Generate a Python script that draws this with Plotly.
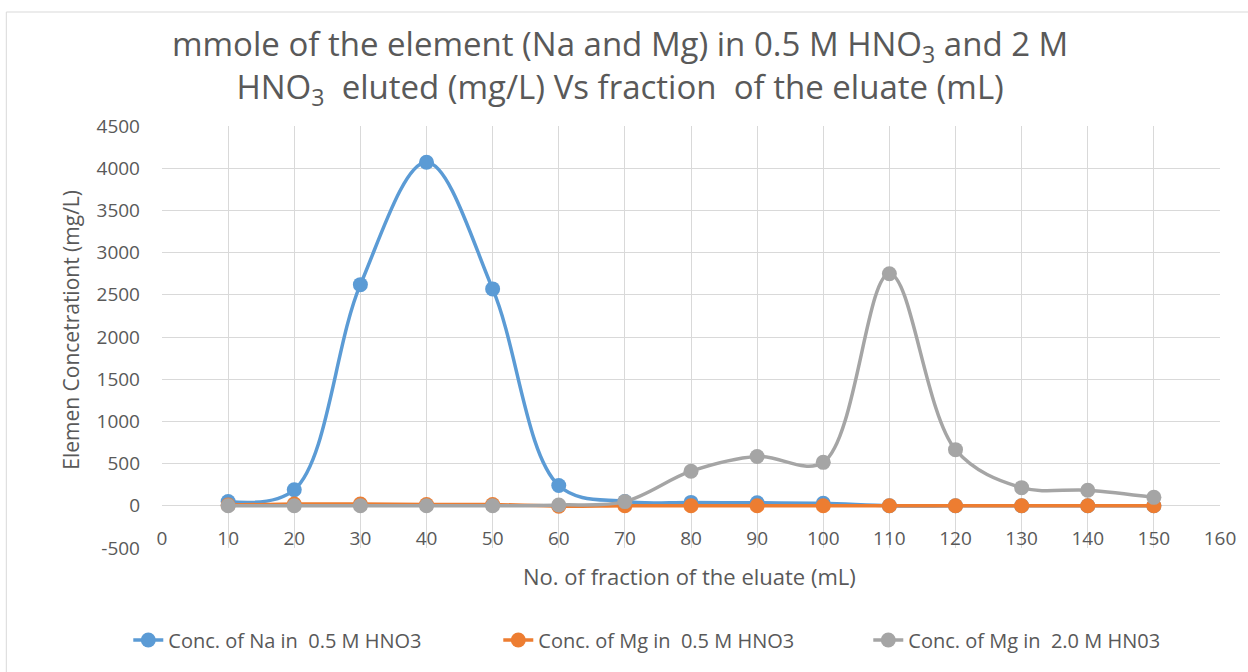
import plotly.graph_objects as go

fractions = [10, 20, 30, 40, 50, 60, 70, 80, 90, 100, 110, 120, 130, 140, 150]
na_05 = [50, 190, 2620, 4070, 2570, 240, 50, 40, 35, 30, 0, 0, 0, 0, 0]
mg_05 = [10, 20, 20, 15, 15, -5, 0, 0, 0, 0, 0, 0, 0, 0, 0]
mg_20 = [0, 0, 0, 0, 0, 10, 50, 410, 585, 515, 2750, 665, 215, 185, 100]

y_ticks = [-500, 0, 500, 1000, 1500, 2000, 2500, 3000, 3500, 4000, 4500]
y_ticktext = ["-500", "0", "500", "1000", "1500", "2000", "2500", "3000", "3500", "4000", "4500"]

names = ["Conc. of Na in\u00a0 0.5 M HNO3", "Conc. of Mg in\u00a0 0.5 M HNO3", "Conc. of Mg in\u00a0 2.0 M HN03"]
colors = ["#5B9BD5", "#ED7D31", "#A5A5A5"]
series = [na_05, mg_05, mg_20]

title_text = ("mmole of the element (Na and Mg) in 0.5 M HNO<sub>3</sub> and 2 M<br>"
              "HNO<sub>3</sub>\u00a0 eluted (mg/L) Vs fraction\u00a0 of the eluate (mL)")
x_title = "No. of fraction of the eluate (mL)"
y_title = "Elemen Concetrationt (mg/L)"

FONT = "Open Sans"
TXT = "#595959"
GRID = "#D9D9D9"

fig = go.Figure()
for name, col, ys in zip(names, colors, series):
    fig.add_trace(go.Scatter(
        x=fractions, y=ys, name=name, mode="lines+markers",
        line=dict(color=col, width=3.5, shape="spline", smoothing=1.0),
        marker=dict(color=col, size=15),
    ))

L, R, T, B = 162, 19, 126, 124
W, H = 1248, 672
pw, ph = W - L - R, H - T - B

def px(x):
    return (x - L) / pw

def py(y):
    return (H - B - y) / ph

fig.update_layout(
    width=W, height=H,
    margin=dict(l=L, r=R, t=T, b=B),
    paper_bgcolor="white", plot_bgcolor="white",
    font=dict(family=FONT, color=TXT, size=19),
    xaxis=dict(
        range=[0, 160], dtick=10, tick0=0,
        showgrid=True, gridcolor=GRID, gridwidth=1,
        zeroline=False, showline=False,
        anchor="free", position=0.1,
        ticks="", ticklabelstandoff=19,
        tickfont=dict(size=19, color=TXT),
    ),
    yaxis=dict(
        range=[-500, 4500], tickmode="array", tickvals=y_ticks, ticktext=y_ticktext,
        showgrid=True, gridcolor=GRID, gridwidth=1,
        zeroline=True, zerolinecolor=GRID, zerolinewidth=1,
        ticks="", ticklabelstandoff=21,
        tickfont=dict(size=19, color=TXT),
    ),
    legend=dict(
        orientation="h", x=px(128), xanchor="left", y=py(640), yanchor="middle",
        font=dict(size=20, color=TXT), entrywidth=325, entrywidthmode="pixels",
        bgcolor="rgba(0,0,0,0)",
    ),
    showlegend=True,
)

fig.add_annotation(
    text=title_text, xref="paper", yref="paper", x=px(624), y=py(67),
    showarrow=False, xanchor="center", yanchor="middle", align="center",
    font=dict(size=33, color=TXT),
)
fig.add_annotation(
    text=x_title, xref="paper", yref="paper",
    x=px(694), y=py(576), showarrow=False, xanchor="center", yanchor="middle",
    font=dict(size=22, color=TXT),
)
fig.add_annotation(
    text=y_title, xref="paper", yref="paper",
    x=px(70), y=py(330), showarrow=False, xanchor="center", yanchor="middle",
    textangle=-90, font=dict(size=21, color=TXT),
)
fig.add_shape(
    type="rect", xref="paper", yref="paper",
    x0=px(5), x1=px(1260), y0=py(690), y1=py(12),
    line=dict(color=GRID, width=1), layer="below",
)

fig.write_html("out.html")
